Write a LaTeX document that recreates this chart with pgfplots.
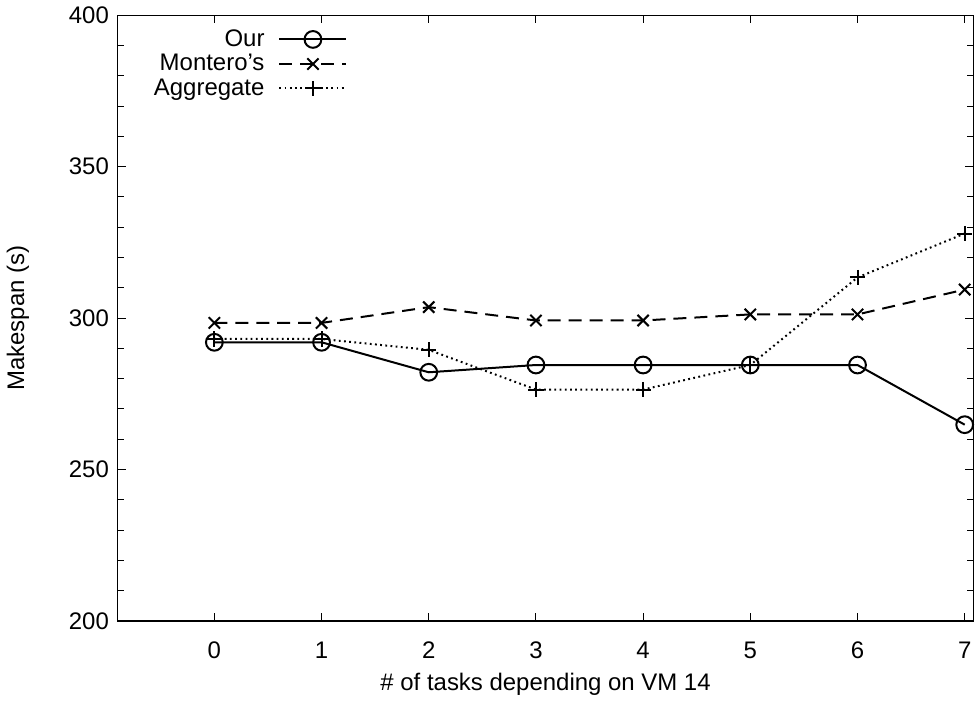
\documentclass[border=0pt]{standalone}
\usepackage{fontspec}
\setmainfont{Liberation Sans}
\usepackage{pgfplots}
\pgfplotsset{compat=1.18}

\begin{document}
\begin{tikzpicture}[font=\fontsize{12}{14}\selectfont]
\begin{axis}[
  scale only axis,
  width=428.5pt, height=303.5pt,
  xmin=-0.9, xmax=7.08,
  ymin=200, ymax=400,
  xtick={0,1,...,7},
  ytick={200,250,...,400},
  minor ytick={210,220,...,390},
  tick align=inside, tick pos=both,
  major tick length=4pt, minor tick length=3pt,
  every tick/.style={black, line width=0.5pt},
  axis line style={line width=0.6pt},
  /pgf/number format/assume math mode=true,
  xticklabel style={yshift=-7pt},
  yticklabel style={xshift=-1pt},
  xlabel={\# of tasks depending on VM 14},
  ylabel={Makespan (s)},
  xlabel style={at={(axis description cs:0.5,-0.105)}, anchor=center},
  ylabel style={at={(axis description cs:-0.117,0.5)}, anchor=center},
  legend plot pos=right,
  legend cell align=right,
  legend image code/.code={
    \draw[mark repeat=2,mark phase=2] plot coordinates {(0cm,0cm) (0.59cm,0cm) (1.18cm,0cm)};},
  legend style={draw=none, fill=none, at={(axis description cs:0.03,0.99)},
    anchor=north west, row sep=-1.5pt, column sep=5pt, font=\fontsize{12}{14}\selectfont},
]
\addplot[black, line width=1pt, mark=o, mark size=4.2pt, mark options={solid}]
  coordinates {(0,292.0) (1,292.0) (2,282.1) (3,284.5) (4,284.5) (5,284.5) (6,284.5) (7,264.8)};
\addplot[black, line width=1pt, dash pattern=on 6.5pt off 4pt, mark=x, mark size=4pt, mark options={solid}]
  coordinates {(0,298.4) (1,298.4) (2,303.6) (3,299.2) (4,299.2) (5,301.2) (6,301.2) (7,309.4)};
\addplot[black, line width=1pt, dash pattern=on 0.9pt off 1.7pt, mark=+, mark size=3.8pt, mark options={solid}]
  coordinates {(0,293.1) (1,293.1) (2,289.5) (3,276.4) (4,276.4) (5,284.5) (6,313.4) (7,327.9)};
\legend{Our, Montero's, Aggregate}
\end{axis}
\end{tikzpicture}
\end{document}
